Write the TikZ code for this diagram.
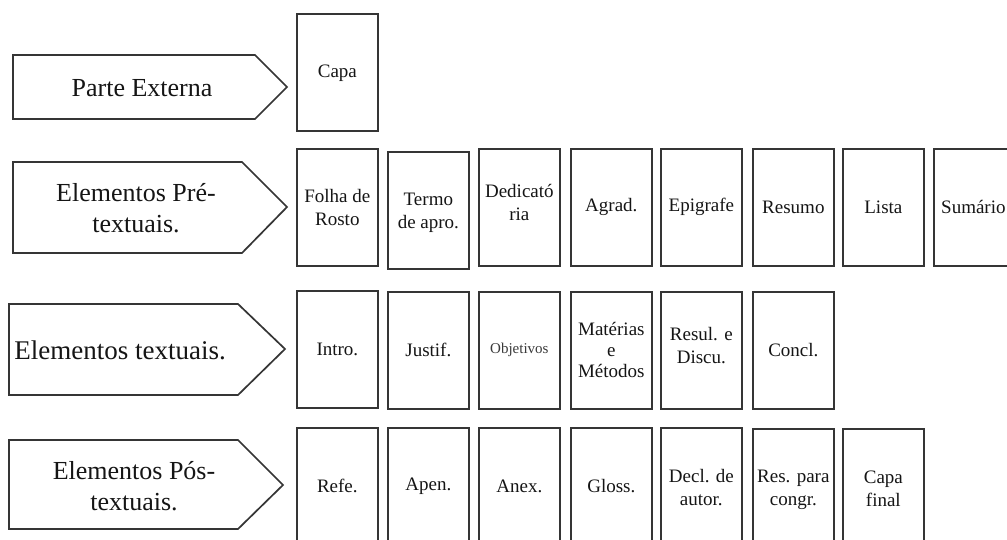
\documentclass[tikz,border=0pt]{standalone}
\usepackage{fontspec}
\setmainfont{Liberation Serif}
\definecolor{edge}{HTML}{353535}
\definecolor{ink}{HTML}{151515}
\definecolor{lightink}{HTML}{3A3A3A}
\begin{document}
\begin{tikzpicture}[x=1pt,y=-1pt,
  shapeline/.style={draw=edge, line width=1.7pt, line join=miter},
  pagebox/.style={draw=edge, line width=1.7pt, minimum width=81pt, minimum height=117pt, inner sep=0pt, anchor=north west},
  boxtext/.style={font=\fontsize{19}{23}\selectfont, text=ink, align=center, inner sep=0pt},
  rowtext/.style={font=\fontsize{26}{31}\selectfont, text=ink, align=center, inner sep=0pt}]
\useasboundingbox (0,0) rectangle (1007,540);
\fill[white] (0,0) rectangle (1007,540);
\clip (0,0) rectangle (1007,540);

% ---- left arrow shapes ----
\draw[shapeline] (13,55) -- (255,55) -- (287,87) -- (255,119) -- (13,119) -- cycle;
\draw[shapeline] (13,162) -- (242,162) -- (287,207) -- (242,253) -- (13,253) -- cycle;
\draw[shapeline] (9,304) -- (238,304) -- (285,349) -- (238,395) -- (9,395) -- cycle;
\draw[shapeline] (9,440) -- (238,440) -- (283,485) -- (238,529) -- (9,529) -- cycle;

\node[rowtext] (r1) at (142,88) {Parte Externa};
\node[rowtext] (r2) at (136,208) {Elementos Pré-\\textuais.};
\node[rowtext, font=\fontsize{27}{30}\selectfont] (r3) at (120,350) {Elementos textuais.};
\node[rowtext] (r4) at (134,486) {Elementos Pós-\\textuais.};

% ---- row 1 ----
\node[pagebox] (b11) at (296,13) {};
\node[boxtext] (t11) at ([yshift=-1pt]b11.center) {Capa};

% ---- row 2 ----
\node[pagebox] (b21) at (296,148) {};
\node[pagebox] (b22) at (387,151) {};
\node[pagebox] (b23) at (478,148) {};
\node[pagebox] (b24) at (570,148) {};
\node[pagebox] (b25) at (660,148) {};
\node[pagebox] (b26) at (752,148) {};
\node[pagebox] (b27) at (842,148) {};
\node[pagebox] (b28) at (933,148) {};
\node[boxtext] (t21) at (b21.center) {Folha de\\Rosto};
\node[boxtext] (t22) at ([yshift=-2pt]b22.center) {Termo\\de apro.};
\node[boxtext] (t23) at ([yshift=5pt]b23.center) {Dedicató\\ria};
\node[boxtext] (t24) at (b24.center) {Agrad.};
\node[boxtext] (t25) at (b25.center) {Epigrafe};
\node[boxtext] (t26) at (b26.center) {Resumo};
\node[boxtext] (t27) at (b27.center) {Lista};
\node[boxtext, anchor=west] (t28) at ([xshift=8pt]b28.west) {Sumário};

% ---- row 3 ----
\node[pagebox] (b31) at (296,290) {};
\node[pagebox] (b32) at (387,291) {};
\node[pagebox] (b33) at (478,291) {};
\node[pagebox] (b34) at (570,291) {};
\node[pagebox] (b35) at (660,291) {};
\node[pagebox] (b36) at (752,291) {};
\node[boxtext] (t31) at (b31.center) {Intro.};
\node[boxtext] (t32) at (b32.center) {Justif.};
\node[boxtext, font=\fontsize{15}{18}\selectfont, text=lightink] (t33) at (b33.center) {Objetivos};
\node[boxtext, font=\fontsize{19}{21}\selectfont] (t34) at (b34.center) {Matérias\\e\\Métodos};
\node[boxtext] (t35) at ([yshift=5pt]b35.center) {Resul. e\\Discu.};
\node[boxtext] (t36) at (b36.center) {Concl.};

% ---- row 4 ----
\node[pagebox] (b41) at (296,427) {};
\node[pagebox] (b42) at (387,427) {};
\node[pagebox] (b43) at (478,427) {};
\node[pagebox] (b44) at (570,427) {};
\node[pagebox] (b45) at (660,427) {};
\node[pagebox] (b46) at (752,428) {};
\node[pagebox] (b47) at (842,428) {};
\node[boxtext] (t41) at (b41.center) {Refe.};
\node[boxtext] (t42) at (b42.center) {Apen.};
\node[boxtext] (t43) at (b43.center) {Anex.};
\node[boxtext] (t44) at (b44.center) {Gloss.};
\node[boxtext] (t45) at ([yshift=-1pt]b45.center) {Decl. de\\autor.};
\node[boxtext] (t46) at ([yshift=-2pt]b46.center) {Res. para\\congr.};
\node[boxtext] (t47) at ([yshift=-1pt]b47.center) {Capa\\final};
\end{tikzpicture}
\end{document}
